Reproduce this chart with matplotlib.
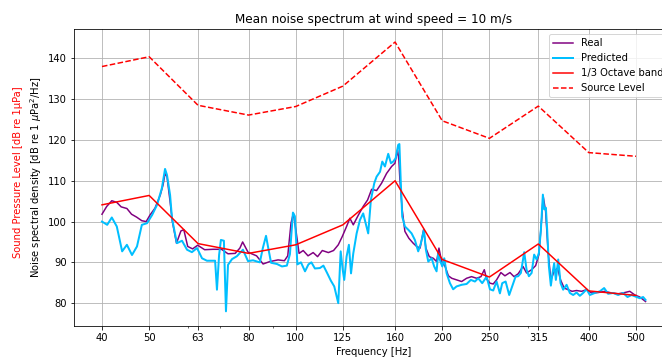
import matplotlib
matplotlib.use('Agg')
import matplotlib.pyplot as plt
from matplotlib.ticker import NullFormatter

# ========== 数据 ==========
# 1/3 倍频程中心频率
band_freq = [40, 50, 63, 80, 100, 125, 160, 200, 250, 315, 400, 500]
band_labels = ['40', '50', '63', '80', '100', '125', '160', '200', '250', '315', '400', '500']
band_db = [104.1, 106.4, 94.6, 92.2, 94.3, 99.2, 110.0, 90.7, 86.4, 94.5, 83.0, 81.9]
source_db = [138.0, 140.4, 128.5, 126.1, 128.2, 133.2, 144.0, 124.7, 120.4, 128.3, 116.9, 116.0]

# 实测谱 (Real)
real_freq = [40.0, 40.9, 41.9, 42.9, 43.8, 45.0, 46.0, 47.1, 48.3, 49.3,
             50.2, 51.4, 52.7, 53.4, 53.9, 54.4, 55.2, 55.8, 56.9, 58.1,
             58.9, 60.0, 61.4, 62.9, 65.0, 67.6, 70.4, 72.6, 75.1, 76.8,
             77.8, 78.6, 79.8, 81.2, 83.1, 84.4, 85.7, 88.5, 92.0, 94.8,
             96.3, 97.8, 98.9, 100.3, 101.6, 103.6, 106.0, 108.6, 110.9, 113.4,
             116.7, 119.6, 122.3, 124.6, 127.2, 129.2, 131.3, 134.5, 137.6, 140.5,
             143.2, 146.6, 150.1, 153.7, 157.4, 159.9, 161.9, 162.9, 163.7, 165.5,
             167.6, 170.8, 174.3, 177.2, 180.1, 183.1, 185.1, 188.1, 191.7, 194.7,
             196.9, 199.4, 202.7, 205.9, 209.2, 214.0, 219.2, 224.4, 229.7, 235.3,
             240.2, 244.0, 246.7, 250.6, 254.5, 258.6, 263.9, 269.0, 275.5, 280.8,
             286.4, 293.0, 298.0, 305.2, 311.1, 315.9, 320.0, 322.4, 326.1, 330.1,
             334.3, 339.6, 345.0, 350.0, 356.0, 362.7, 369.6, 377.5, 386.5, 395.8,
             405.2, 418.1, 431.5, 445.4, 459.5, 474.3, 485.6, 497.3, 509.2, 523.1]
real_db = [101.8, 103.7, 105.1, 104.7, 103.6, 103.2, 101.8, 101.1, 100.2, 100.0,
           101.6, 103.3, 106.5, 109.0, 111.8, 111.0, 104.9, 100.0, 94.7, 97.7,
           98.0, 93.9, 93.3, 94.2, 93.1, 93.2, 93.2, 92.1, 92.2, 93.5,
           95.0, 94.0, 92.5, 92.1, 91.6, 90.6, 89.6, 90.2, 90.6, 90.4,
           91.6, 99.6, 102.0, 97.1, 92.2, 92.9, 91.6, 92.4, 91.4, 92.9,
           92.4, 92.9, 94.3, 96.3, 98.8, 100.8, 99.2, 101.6, 103.7, 105.3,
           107.9, 107.6, 109.4, 111.8, 113.5, 114.3, 117.6, 115.1, 110.2, 102.9,
           97.6, 95.9, 94.7, 93.9, 93.5, 98.0, 93.5, 91.4, 91.0, 90.2,
           93.5, 90.2, 89.0, 86.7, 86.1, 85.7, 85.3, 86.1, 86.5, 86.1,
           86.5, 88.2, 85.9, 84.9, 84.7, 85.7, 87.5, 86.7, 87.5, 86.5,
           87.2, 89.0, 87.4, 88.2, 89.2, 91.9, 100.5, 106.2, 102.5, 92.3,
           85.7, 87.8, 88.6, 85.7, 83.7, 83.3, 82.9, 83.1, 82.9, 83.3,
           82.5, 82.6, 82.9, 82.5, 82.3, 82.6, 82.9, 82.0, 81.5, 80.4]

# 预测谱 (Predicted)
pred_freq = [40.0, 41.0, 41.9, 42.9, 44.0, 45.0, 46.1, 47.2, 48.3, 49.5,
             50.7, 51.9, 53.1, 53.9, 54.4, 55.2, 55.7, 57.0, 58.4, 59.8,
             61.2, 62.7, 64.2, 65.7, 67.3, 68.3, 68.9, 69.6, 70.2, 71.2,
             71.9, 72.6, 74.0, 75.7, 77.9, 79.8, 81.7, 84.4, 85.6, 86.9,
             87.7, 89.0, 91.5, 93.7, 95.9, 97.3, 98.7, 99.6, 100.8, 102.5,
             104.5, 106.2, 107.7, 109.5, 112.1, 114.0, 115.9, 118.1, 120.0, 121.4,
             122.3, 123.7, 124.9, 125.8, 127.2, 128.6, 129.9, 131.3, 133.4, 135.5,
             137.6, 139.2, 140.9, 142.7, 145.0, 146.6, 149.0, 150.6, 152.5, 154.9,
             156.9, 158.6, 160.4, 162.4, 163.3, 164.3, 165.5, 167.6, 170.3, 173.0,
             175.7, 178.5, 180.8, 183.4, 185.1, 187.2, 190.2, 192.5, 194.7, 196.2,
             197.8, 200.0, 201.9, 204.2, 207.4, 210.6, 214.0, 219.2, 224.4, 229.0,
             233.4, 237.1, 241.6, 246.7, 250.6, 254.5, 258.6, 262.7, 265.6, 269.9,
             274.5, 278.4, 282.9, 286.4, 290.1, 294.7, 298.0, 301.3, 305.2, 308.9,
             312.5, 315.9, 318.9, 321.9, 323.9, 326.5, 328.5, 331.2, 334.3, 337.0,
             339.6, 342.3, 346.1, 350.0, 354.3, 360.1, 365.7, 371.5, 377.5, 383.4,
             389.5, 395.8, 402.0, 411.6, 421.5, 430.1, 438.3, 448.8, 459.5, 470.5,
             480.4, 489.6, 499.0, 509.2, 517.2, 523.1]
pred_db = [100.0, 99.2, 101.0, 98.8, 92.7, 94.3, 91.8, 93.9, 99.2, 99.6,
           101.6, 104.1, 108.2, 112.9, 111.4, 106.5, 100.8, 94.7, 95.3, 93.1,
           92.5, 93.5, 91.0, 90.4, 90.4, 90.4, 83.3, 91.8, 95.5, 95.3,
           78.0, 89.4, 90.8, 91.5, 93.1, 90.3, 90.5, 90.0, 93.5, 96.5,
           93.9, 89.9, 89.6, 89.0, 89.2, 92.0, 102.2, 101.3, 89.5, 90.0,
           87.8, 89.5, 90.0, 88.5, 88.6, 89.2, 87.5, 85.5, 84.1, 81.6,
           80.0, 92.7, 88.2, 85.7, 91.4, 94.3, 87.3, 92.2, 97.1, 100.4,
           102.0, 99.6, 97.1, 105.3, 109.4, 111.0, 112.2, 114.7, 113.5, 116.6,
           114.3, 114.7, 115.5, 118.8, 119.0, 110.2, 101.2, 98.8, 98.0, 97.1,
           95.5, 92.7, 94.7, 98.0, 93.1, 90.2, 91.0, 89.0, 87.8, 92.2,
           90.6, 89.0, 91.0, 87.3, 84.9, 83.4, 84.1, 84.5, 84.7, 85.7,
           85.3, 86.1, 84.9, 86.5, 83.4, 83.1, 85.3, 82.4, 84.9, 85.3,
           82.0, 84.1, 86.5, 86.6, 87.4, 92.5, 88.2, 86.6, 87.4, 91.9,
           90.7, 92.3, 98.0, 106.6, 103.0, 103.4, 98.0, 89.0, 84.3, 87.4,
           89.8, 85.7, 90.7, 84.9, 83.3, 84.5, 82.5, 82.0, 82.6, 81.8,
           82.5, 83.4, 82.0, 82.5, 82.9, 83.7, 82.3, 82.5, 82.0, 82.5,
           81.5, 82.0, 81.6, 81.2, 81.5, 80.8]


def plot_noise_spectrum(output_path, dpi=72):
    """绘制风速 10 m/s 下的平均噪声谱"""
    fig = plt.figure(figsize=(662 / dpi, 360 / dpi), dpi=dpi)
    # 坐标轴右侧超出画布（与原图一致，图例被截断）
    ax = fig.add_axes([74 / 662, 34 / 360, 599 / 662, 297 / 360])

    ax.plot(real_freq, real_db, color='purple', linewidth=1.5, label='Real')
    ax.plot(pred_freq, pred_db, color='deepskyblue', linewidth=2, label='Predicted')
    ax.plot(band_freq, band_db, color='red', linewidth=1.5, label='1/3 Octave band')
    ax.plot(band_freq, source_db, color='red', linestyle='--', linewidth=1.5, label='Source Level')

    ax.set_xscale('log')
    ax.set_xlim(35.04, 595.7)
    ax.set_ylim(74.4, 147.2)
    ax.set_xticks(band_freq)
    ax.set_xticklabels(band_labels)
    ax.xaxis.set_minor_formatter(NullFormatter())

    ax.set_title('Mean noise spectrum at wind speed = 10 m/s', fontsize=12)
    ax.set_xlabel('Frequency [Hz]', fontsize=10)
    ax.set_ylabel(r'Noise spectral density [dB re 1 $\mu$Pa$^2$/Hz]', fontsize=10)
    fig.text(18 / 662, 1 - 172 / 360, 'Sound Pressure Level [dB re 1μPa]',
             rotation=90, color='red', fontsize=10, ha='center', va='center')

    ax.tick_params(axis='both', which='major', labelsize=10)
    ax.grid(True, which='major')
    ax.legend(loc='upper right', fontsize=10)

    fig.savefig(output_path, dpi=dpi)
    plt.close(fig)


if __name__ == '__main__':
    plot_noise_spectrum('out.png')
